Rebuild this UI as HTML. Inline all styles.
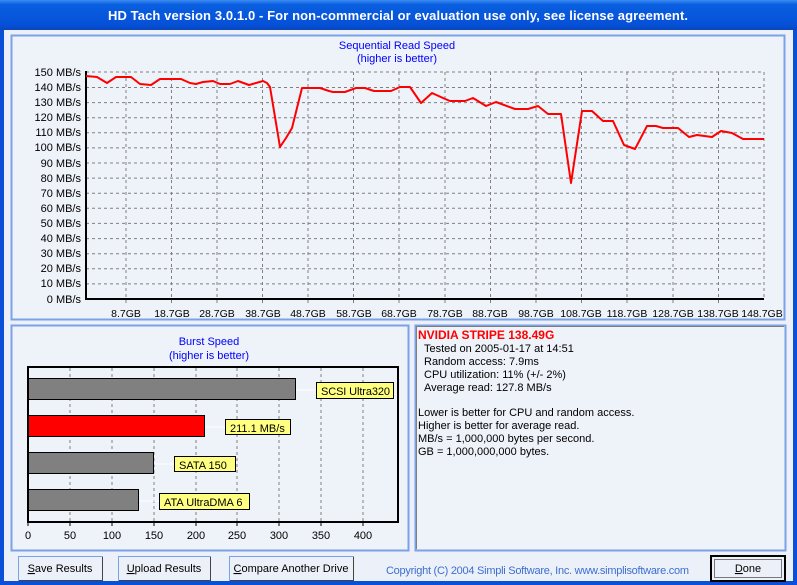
<!DOCTYPE html>
<html><head><meta charset="utf-8"><style>
html,body{margin:0;padding:0;width:797px;height:585px;overflow:hidden;background:#ECF0F8}
svg{display:block;font-family:"Liberation Sans",Arial,sans-serif}
</style></head><body>
<svg width="797" height="585" viewBox="0 0 797 585" xmlns="http://www.w3.org/2000/svg">
<defs>
<linearGradient id="tb" x1="0" y1="0" x2="0" y2="1">
<stop offset="0" stop-color="#3C8CF3"/><stop offset="0.15" stop-color="#0A5FE0"/><stop offset="0.85" stop-color="#0550D8"/><stop offset="1" stop-color="#0A45B8"/>
</linearGradient>
</defs>
<rect x="0" y="0" width="797" height="585" fill="#0A4FD8"/>
<rect x="0" y="0" width="797" height="30" fill="url(#tb)"/>
<text x="398" y="20" text-anchor="middle" font-size="13" font-weight="bold" fill="#fff" textLength="580">HD Tach version 3.0.1.0  - For non-commercial or evaluation use only, see license agreement.</text>
<rect x="4" y="30" width="789" height="551" fill="#ECF0F8"/>
<rect x="11.5" y="35.5" width="773" height="284" fill="#EEF2F9" stroke="#7BA2E7" stroke-width="2"/>
<text x="397" y="49" text-anchor="middle" font-size="11" fill="#0000FF">Sequential Read Speed</text>
<text x="397" y="62" text-anchor="middle" font-size="11" fill="#0000FF">(higher is better)</text>
<g stroke="#808080" stroke-dasharray="3,3" stroke-width="1">
<line x1="86" x2="764" y1="87.5" y2="87.5"/><line x1="86" x2="764" y1="102.6" y2="102.6"/><line x1="86" x2="764" y1="117.7" y2="117.7"/><line x1="86" x2="764" y1="132.8" y2="132.8"/><line x1="86" x2="764" y1="147.9" y2="147.9"/><line x1="86" x2="764" y1="163" y2="163"/><line x1="86" x2="764" y1="178.1" y2="178.1"/><line x1="86" x2="764" y1="193.2" y2="193.2"/><line x1="86" x2="764" y1="208.3" y2="208.3"/><line x1="86" x2="764" y1="223.4" y2="223.4"/><line x1="86" x2="764" y1="238.6" y2="238.6"/><line x1="86" x2="764" y1="253.7" y2="253.7"/><line x1="86" x2="764" y1="268.8" y2="268.8"/><line x1="86" x2="764" y1="283.9" y2="283.9"/>
<line x1="86" x2="764" y1="72" y2="72"/><line x1="764" x2="764" y1="72" y2="299"/>
<line x1="126" x2="126" y1="72" y2="303"/><line x1="171.5" x2="171.5" y1="72" y2="303"/><line x1="217" x2="217" y1="72" y2="303"/><line x1="262.5" x2="262.5" y1="72" y2="303"/><line x1="308" x2="308" y1="72" y2="303"/><line x1="353.5" x2="353.5" y1="72" y2="303"/><line x1="399" x2="399" y1="72" y2="303"/><line x1="445" x2="445" y1="72" y2="303"/><line x1="490.5" x2="490.5" y1="72" y2="303"/><line x1="536" x2="536" y1="72" y2="303"/><line x1="581.5" x2="581.5" y1="72" y2="303"/><line x1="627" x2="627" y1="72" y2="303"/><line x1="673" x2="673" y1="72" y2="303"/><line x1="718.5" x2="718.5" y1="72" y2="303"/>
</g>
<line x1="86" y1="71" x2="86" y2="300" stroke="#000" stroke-width="2"/>
<line x1="85" y1="299" x2="764" y2="299" stroke="#000" stroke-width="2"/>
<g font-size="11" fill="#000" text-anchor="end">
<text x="81" y="76">150 MB/s</text><text x="81" y="91">140 MB/s</text><text x="81" y="106">130 MB/s</text><text x="81" y="121">120 MB/s</text><text x="81" y="136">110 MB/s</text><text x="81" y="151">100 MB/s</text><text x="81" y="167">90 MB/s</text><text x="81" y="182">80 MB/s</text><text x="81" y="197">70 MB/s</text><text x="81" y="212">60 MB/s</text><text x="81" y="227">50 MB/s</text><text x="81" y="242">40 MB/s</text><text x="81" y="257">30 MB/s</text><text x="81" y="272">20 MB/s</text><text x="81" y="287">10 MB/s</text><text x="81" y="303">0 MB/s</text>
</g>
<g font-size="10.5" fill="#000" text-anchor="middle">
<text x="126" y="317">8.7GB</text><text x="172" y="317">18.7GB</text><text x="217" y="317">28.7GB</text><text x="263" y="317">38.7GB</text><text x="308" y="317">48.7GB</text><text x="354" y="317">58.7GB</text><text x="399" y="317">68.7GB</text><text x="445" y="317">78.7GB</text><text x="490" y="317">88.7GB</text><text x="536" y="317">98.7GB</text><text x="581" y="317">108.7GB</text><text x="627" y="317">118.7GB</text><text x="673" y="317">128.7GB</text><text x="718" y="317">138.7GB</text><text x="762" y="317">148.7GB</text>
</g>
<polyline fill="none" stroke="#FF0000" stroke-width="2" stroke-linejoin="round" points="86,76 97,77 107,83 116,77 131,77 140,84 151,85 160,79 181,79 190,83 196,84 203,82 213,81 220,84 230,84 238,81 249,85 256,83 263,81 267,83 270,87 280,147 286,138 292,128 302,88 320,88 329,91 333,92 345,92 356,88 365,88 374,91 381,91 391,91 400,87 410,87 421,103 432,93 443,98 450,101 465,101 473,98 486,106 496,102 515,109 528,109 538,106 548,114 561,114 571,183 582,111 592,111 603,121 613,121 624,145 635,149 647,126 656,126 663,128 678,128 689,137 697,135 712,137 721,131 732,133 743,139 764,139"/>
<rect x="11.5" y="325.5" width="397" height="225" fill="#EEF2F9" stroke="#7BA2E7" stroke-width="2"/>
<text x="209" y="345" text-anchor="middle" font-size="11" fill="#0000FF">Burst Speed</text>
<text x="209" y="359" text-anchor="middle" font-size="11" fill="#0000FF">(higher is better)</text>
<g stroke="#808080" stroke-dasharray="3,3">
<line x1="70" x2="70" y1="368" y2="522"/><line x1="112" x2="112" y1="368" y2="522"/><line x1="154" x2="154" y1="368" y2="522"/><line x1="196" x2="196" y1="368" y2="522"/><line x1="237" x2="237" y1="368" y2="522"/><line x1="279" x2="279" y1="368" y2="522"/><line x1="321" x2="321" y1="368" y2="522"/><line x1="363" x2="363" y1="368" y2="522"/>
</g>
<rect x="28" y="367" width="370" height="155" fill="none" stroke="#000" stroke-width="2"/>
<g stroke="#000" stroke-width="1">
<line x1="28" x2="28" y1="522" y2="526"/><line x1="70" x2="70" y1="522" y2="526"/><line x1="112" x2="112" y1="522" y2="526"/><line x1="154" x2="154" y1="522" y2="526"/><line x1="196" x2="196" y1="522" y2="526"/><line x1="237" x2="237" y1="522" y2="526"/><line x1="279" x2="279" y1="522" y2="526"/><line x1="321" x2="321" y1="522" y2="526"/><line x1="363" x2="363" y1="522" y2="526"/>
</g>
<g font-size="11" text-anchor="middle" fill="#000">
<text x="28" y="539">0</text><text x="70" y="539">50</text><text x="112" y="539">100</text><text x="154" y="539">150</text><text x="196" y="539">200</text><text x="237" y="539">250</text><text x="279" y="539">300</text><text x="321" y="539">350</text><text x="363" y="539">400</text>
</g>
<g stroke="#fff"><line x1="295" x2="316" y1="390" y2="390"/><line x1="204" x2="225" y1="427" y2="427"/><line x1="153" x2="174" y1="464" y2="464"/><line x1="138" x2="159" y1="501" y2="501"/></g>
<rect x="28.5" y="378.5" width="267" height="21" fill="#808080" stroke="#000"/>
<rect x="28.5" y="415.5" width="176" height="21" fill="#FF0000" stroke="#000"/>
<rect x="28.5" y="452.5" width="125" height="21" fill="#808080" stroke="#000"/>
<rect x="28.5" y="489.5" width="110" height="21" fill="#808080" stroke="#000"/>
<g font-size="11" fill="#000">
<rect x="316.5" y="382.5" width="77" height="16" fill="#FFFF80" stroke="#000"/><text x="321" y="395" textLength="69">SCSI Ultra320</text>
<rect x="225.5" y="419.5" width="65" height="15" fill="#FFFF80" stroke="#000"/><text x="230" y="432">211.1 MB/s</text>
<rect x="174.5" y="456.5" width="61" height="15" fill="#FFFF80" stroke="#000"/><text x="179" y="469">SATA 150</text>
<rect x="159.5" y="493.5" width="90" height="16" fill="#FFFF80" stroke="#000"/><text x="164" y="506">ATA UltraDMA 6</text>
</g>
<rect x="415.5" y="325.5" width="370" height="225" fill="#EEF2F9" stroke="#7BA2E7" stroke-width="2"/>
<path d="M416.5 549 V326.5 H784" fill="none" stroke="#808080" stroke-width="1"/>
<text x="418" y="339" font-size="12" font-weight="bold" fill="#FF0000">NVIDIA STRIPE 138.49G</text>
<g font-size="11" fill="#000">
<text x="424" y="352">Tested on 2005-01-17 at 14:51</text>
<text x="424" y="365">Random access: 7.9ms</text>
<text x="424" y="378">CPU utilization: 11% (+/- 2%)</text>
<text x="424" y="391">Average read: 127.8 MB/s</text>
<text x="418" y="416">Lower is better for CPU and random access.</text>
<text x="418" y="429">Higher is better for average read.</text>
<text x="418" y="442">MB/s = 1,000,000 bytes per second.</text>
<text x="418" y="455">GB = 1,000,000,000 bytes.</text>
</g>
<g font-size="11" fill="#000">
<rect x="18.5" y="556.5" width="84" height="24" fill="#ECF0F8" stroke="#7BA2E7"/><path d="M19 580.5 H102.5 V557" stroke="#444" fill="none"/>
<text x="60" y="572" text-anchor="middle"><tspan text-decoration="underline">S</tspan>ave Results</text>
<rect x="118.5" y="556.5" width="92" height="24" fill="#ECF0F8" stroke="#7BA2E7"/><path d="M119 580.5 H210.5 V557" stroke="#444" fill="none"/>
<text x="164" y="572" text-anchor="middle"><tspan text-decoration="underline">U</tspan>pload Results</text>
<rect x="229.5" y="556.5" width="124" height="24" fill="#ECF0F8" stroke="#7BA2E7"/><path d="M230 580.5 H353.5 V557" stroke="#444" fill="none"/>
<text x="291" y="572" text-anchor="middle"><tspan text-decoration="underline">C</tspan>ompare Another Drive</text>
<rect x="711" y="556" width="74" height="25" fill="#ECF0F8" stroke="#000" stroke-width="2"/>
<rect x="714.5" y="559.5" width="67" height="18" fill="none" stroke="#000" stroke-dasharray="1,1"/>
<text x="748" y="572" text-anchor="middle"><tspan text-decoration="underline">D</tspan>one</text>
</g>
<text x="386" y="574" font-size="11" fill="#3C6FD0" textLength="303">Copyright (C) 2004 Simpli Software, Inc. www.simplisoftware.com</text>
</svg>
</body></html>
